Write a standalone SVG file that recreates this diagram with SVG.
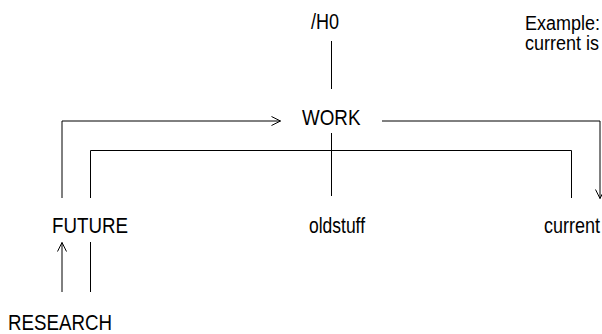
<svg xmlns="http://www.w3.org/2000/svg" width="602" height="334" viewBox="0 0 602 334">
<style>
text{font-family:"Liberation Sans",Arial,sans-serif;font-size:22px;fill:#000}
.note{font-size:20px}
.c{fill:none;stroke:#000;stroke-width:1}
</style>
<defs>
<marker id="ah" markerWidth="12" markerHeight="12" refX="10" refY="5" orient="auto" markerUnits="userSpaceOnUse">
<path d="M1,0.5 L10,5 L1,9.5" fill="none" stroke="#000" stroke-width="1"/>
</marker>
</defs>
<rect width="602" height="334" fill="#fff"/>
<g id="connectors">
<path class="c" d="M331.5,41 V89"/>
<path class="c" d="M62,198 V121 H280.5" marker-end="url(#ah)"/>
<path class="c" d="M382,121 H600 V198.5" marker-end="url(#ah)"/>
<path class="c" d="M90.5,198 V150.5 H571.5 V198"/>
<path class="c" d="M331.5,133 V196"/>
<path class="c" d="M62,292 V242.5" marker-end="url(#ah)"/>
<path class="c" d="M90.5,242 V292"/>
</g>
<g id="node-h0"><text x="311" y="29" textLength="28" lengthAdjust="spacingAndGlyphs">/H0</text></g>
<g id="node-work"><text x="302" y="125" textLength="58.5" lengthAdjust="spacingAndGlyphs">WORK</text></g>
<g id="node-future"><text x="52" y="233" textLength="76" lengthAdjust="spacingAndGlyphs">FUTURE</text></g>
<g id="node-oldstuff"><text x="309" y="233" textLength="56" lengthAdjust="spacingAndGlyphs">oldstuff</text></g>
<g id="node-current"><text x="544" y="233" textLength="56" lengthAdjust="spacingAndGlyphs">current</text></g>
<g id="node-research"><text x="8" y="330" textLength="104" lengthAdjust="spacingAndGlyphs">RESEARCH</text></g>
<g id="note"><text class="note" x="525" y="30" textLength="75" lengthAdjust="spacingAndGlyphs">Example:</text><text class="note" x="525" y="50" textLength="74" lengthAdjust="spacingAndGlyphs">current is</text></g>
</svg>
